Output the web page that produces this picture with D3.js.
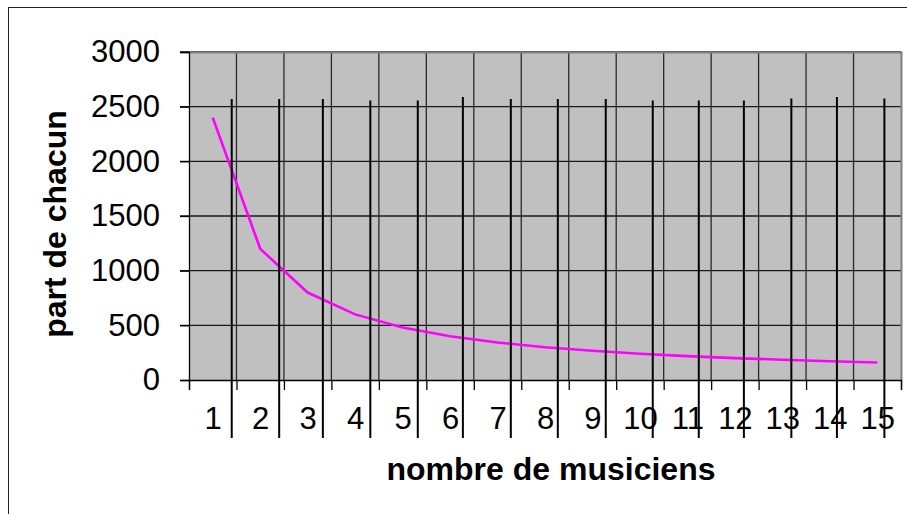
<!DOCTYPE html>
<html>
<head>
<meta charset="utf-8">
<script src="https://cdn.jsdelivr.net/npm/d3@7/dist/d3.min.js"></script>
<style>
  body { margin: 0; background: #fff; }
  svg { display: block; font-family: "Liberation Sans", Arial, sans-serif; }
</style>
</head>
<body>
<svg id="chart" width="907" height="514"></svg>
<script>
// nombre de musiciens -> part de chacun
var musiciens = [1, 2, 3, 4, 5, 6, 7, 8, 9, 10, 11, 12, 13, 14, 15];
var parts = [2400, 1200, 800, 600, 480, 400, 343, 300, 267, 240, 218, 200, 185, 171, 160];
var yTicks = [0, 500, 1000, 1500, 2000, 2500, 3000];

// the black vertical strokes: position on the category axis, top and bottom value
var traitPos = [1.40, 2.40, 3.32, 4.32, 5.32, 6.27, 7.28, 8.27, 9.28, 10.27, 11.24, 12.19, 13.19, 14.15, 15.15];
var traitTop = [2570, 2570, 2570, 2557, 2557, 2588, 2570, 2570, 2570, 2557, 2557, 2557, 2575, 2588, 2575];
var traitBas = -530;

var PLOT = { left: 189, right: 901, top: 52, bottom: 380 };

var svg = d3.select("#chart");

var x = d3.scaleLinear()
    .domain([0.5, musiciens.length + 0.5])
    .range([PLOT.left, PLOT.right]);

var y = d3.scaleLinear()
    .domain([0, 3000])
    .range([PLOT.bottom, PLOT.top]);

var bornes = d3.range(0, musiciens.length + 1).map(function (k) { return k + 0.5; });

// outer chart frame
svg.append("rect")
    .attr("x", 8.5).attr("y", 7.5)
    .attr("width", 1000).attr("height", 1000)
    .attr("fill", "none")
    .attr("stroke", "#222")
    .attr("stroke-width", 1);

// plot area
svg.append("rect")
    .attr("x", PLOT.left).attr("y", PLOT.top)
    .attr("width", PLOT.right - PLOT.left)
    .attr("height", PLOT.bottom - PLOT.top)
    .attr("fill", "#c0c0c0");

// horizontal gridlines (with their left ticks)
svg.append("g").selectAll("line")
    .data(yTicks.filter(function (d) { return d > 0; }))
    .join("line")
    .attr("x1", PLOT.left - 9).attr("x2", PLOT.right)
    .attr("y1", function (d) { return y(d); })
    .attr("y2", function (d) { return y(d); })
    .attr("stroke", "#1a1a1a")
    .attr("stroke-width", 1.3);

// vertical gridlines at category boundaries
svg.append("g").selectAll("line")
    .data(bornes.slice(1, -1))
    .join("line")
    .attr("x1", function (d) { return x(d); })
    .attr("x2", function (d) { return x(d); })
    .attr("y1", PLOT.top).attr("y2", PLOT.bottom)
    .attr("stroke", "#2a2a2a")
    .attr("stroke-width", 1.3);

// plot border, top and right (grey)
svg.append("path")
    .attr("d", "M" + PLOT.left + "," + (PLOT.top + 0.5) + "H" + (PLOT.right + 0.5) + "V" + PLOT.bottom)
    .attr("fill", "none")
    .attr("stroke", "#808080")
    .attr("stroke-width", 2);

// y axis
var yAxis = d3.axisLeft(y).tickValues(yTicks).tickFormat(d3.format("d"))
    .tickSize(9).tickPadding(20);
var gy = svg.append("g")
    .attr("transform", "translate(" + PLOT.left + ",0)")
    .call(yAxis);
gy.select(".domain").attr("stroke", "#000").attr("stroke-width", 1.3);
gy.selectAll(".tick line").attr("stroke", "#000").attr("stroke-width", 1.3);
gy.selectAll(".tick text")
    .attr("font-size", 31)
    .attr("font-family", "Liberation Sans, Arial, sans-serif")
    .attr("fill", "#000");

// x axis: ticks on the boundaries, labels in the middle
var xTicks = d3.axisBottom(x).tickValues(bornes).tickSize(10).tickFormat("");
var gx = svg.append("g")
    .attr("transform", "translate(0," + PLOT.bottom + ")")
    .call(xTicks);
gx.select(".domain").attr("stroke", "#000").attr("stroke-width", 1.3);
gx.selectAll(".tick line").attr("stroke", "#000").attr("stroke-width", 1.3);

var xLabels = d3.axisBottom(x).tickValues(musiciens).tickSize(0).tickPadding(27);
var gxl = svg.append("g")
    .attr("transform", "translate(0," + PLOT.bottom + ")")
    .call(xLabels);
gxl.select(".domain").remove();
gxl.selectAll(".tick text")
    .attr("font-size", 31)
    .attr("font-family", "Liberation Sans, Arial, sans-serif")
    .attr("fill", "#000");

// the series
var ligne = d3.line()
    .x(function (d, i) { return x(musiciens[i]); })
    .y(function (d) { return y(d); });

svg.append("path")
    .datum(parts)
    .attr("d", ligne)
    .attr("fill", "none")
    .attr("stroke", "#ff00ff")
    .attr("stroke-width", 2.6);

// black strokes
svg.append("g").selectAll("line")
    .data(traitPos)
    .join("line")
    .attr("x1", function (d) { return x(d); })
    .attr("x2", function (d) { return x(d); })
    .attr("y1", function (d, i) { return y(traitTop[i]); })
    .attr("y2", y(traitBas))
    .attr("stroke", "#000")
    .attr("stroke-width", 2);

// axis titles
svg.append("text")
    .attr("x", 551).attr("y", 480)
    .attr("text-anchor", "middle")
    .attr("font-size", 32)
    .attr("font-weight", "bold")
    .text("nombre de musiciens");

svg.append("text")
    .attr("transform", "translate(66,224) rotate(-90)")
    .attr("text-anchor", "middle")
    .attr("font-size", 32)
    .attr("font-weight", "bold")
    .text("part de chacun");
</script>
</body>
</html>
